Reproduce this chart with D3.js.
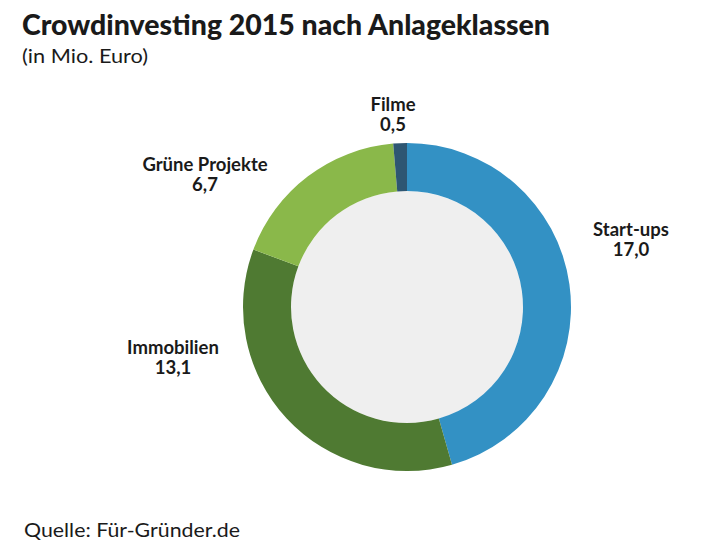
<!DOCTYPE html>
<html>
<head>
<meta charset="utf-8">
<script src="https://cdn.jsdelivr.net/npm/d3@7"></script>
<style>
  body { margin: 0; background: #fff; }
  text { font-family: Lato, "Open Sans", sans-serif; fill: #1a1a1a; }
</style>
</head>
<body>
<div id="chart"></div>
<script>
// data
const categories = ["Start-ups", "Immobilien", "Grüne Projekte", "Filme"];
const values = [17.0, 13.1, 6.7, 0.5];
const valueLabels = ["17,0", "13,1", "6,7", "0,5"];
const colors = ["#3391c4", "#4f7a32", "#8ab84a", "#2e5672"];

const width = 701;
const height = 554;
const cx = 407, cy = 307;
const outerR = 164, innerR = 116;

// where each label sits, relative to the ring centre
const labelOffset = [
    {x: 224, y: -71},
    {x: -234, y: 47},
    {x: -202, y: -136},
    {x: -14, y: -196}
];

const svg = d3.select("#chart")
    .append("svg")
    .attr("width", width)
    .attr("height", height);

svg.append("text")
    .attr("x", 22)
    .attr("y", 35)
    .attr("font-size", 28)
    .attr("font-weight", "900")
    .attr("textLength", 528)
    .attr("lengthAdjust", "spacingAndGlyphs")
    .text("Crowdinvesting 2015 nach Anlageklassen");

svg.append("text")
    .attr("x", 22)
    .attr("y", 63)
    .attr("font-size", 20)
    .attr("textLength", 126)
    .attr("lengthAdjust", "spacingAndGlyphs")
    .text("(in Mio. Euro)");

svg.append("text")
    .attr("x", 24)
    .attr("y", 537)
    .attr("font-size", 20)
    .attr("textLength", 216)
    .attr("lengthAdjust", "spacingAndGlyphs")
    .text("Quelle: Für-Gründer.de");

const pie = d3.pie().sort(null).value(function(d) { return d; });
const arc = d3.arc().innerRadius(innerR).outerRadius(outerR);

const g = svg.append("g")
    .attr("transform", `translate(${cx},${cy})`);

g.append("circle")
    .attr("r", innerR)
    .attr("fill", "#efefef");

g.selectAll("path")
    .data(pie(values))
    .enter()
    .append("path")
    .attr("d", arc)
    .attr("fill", function(d, i) { return colors[i]; });

const labels = g.selectAll("g.label")
    .data(categories)
    .enter()
    .append("g")
    .attr("class", "label")
    .attr("transform", function(d, i) { return `translate(${labelOffset[i].x},${labelOffset[i].y})`; });

labels.append("text")
    .attr("text-anchor", "middle")
    .attr("font-size", 18.5)
    .attr("font-weight", "bold")
    .text(function(d) { return d; });

labels.append("text")
    .attr("text-anchor", "middle")
    .attr("y", 20)
    .attr("font-size", 18.5)
    .attr("font-weight", "bold")
    .text(function(d, i) { return valueLabels[i]; });
</script>
</body>
</html>
